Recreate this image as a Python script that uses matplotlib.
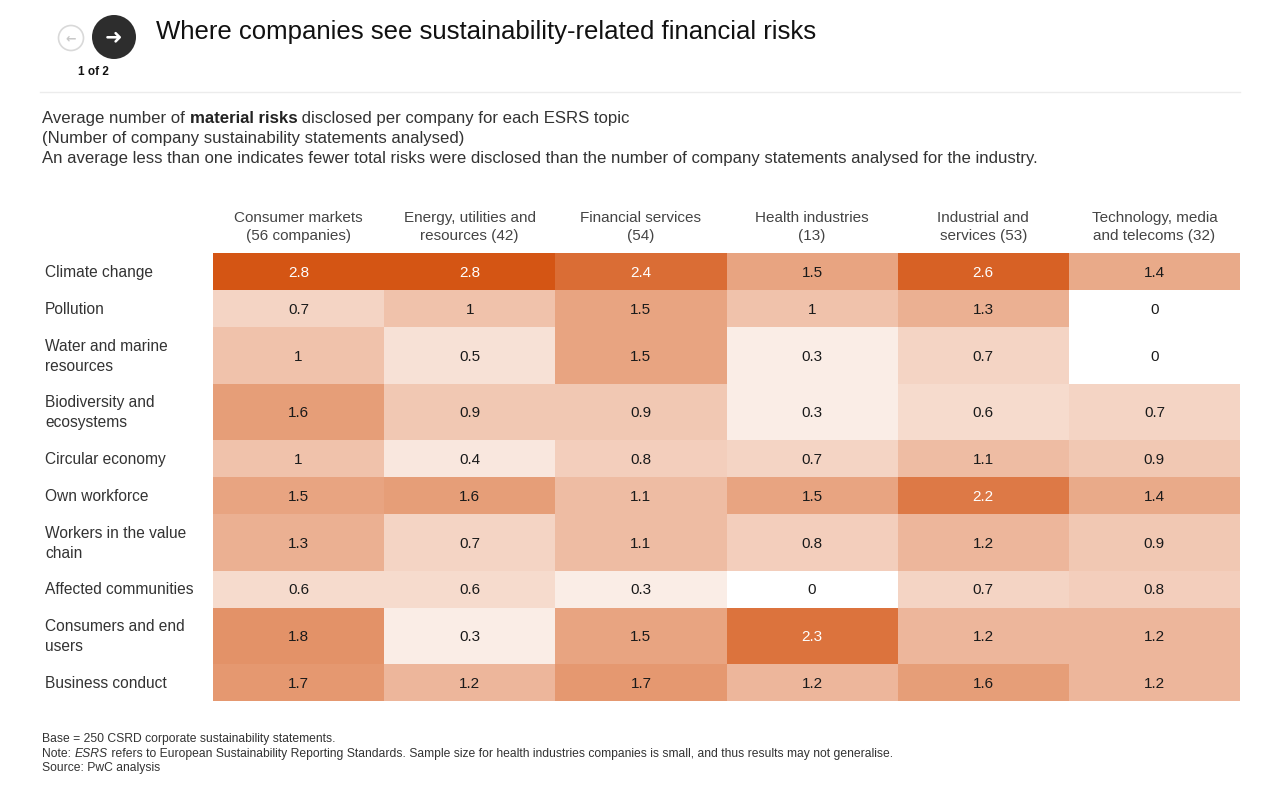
import matplotlib
matplotlib.use("Agg")
import matplotlib.pyplot as plt
import numpy as np
from matplotlib.colors import LinearSegmentedColormap
from matplotlib.patches import Circle

plt.rcParams['font.family'] = ['Liberation Sans', 'DejaVu Sans']

title = "Where companies see sustainability-related financial risks"
industries = ["Consumer markets\n(56 companies)", "Energy, utilities and\nresources (42)",
              "Financial services\n(54)", "Health industries\n(13)",
              "Industrial and\nservices (53)", "Technology, media\nand telecoms (32)"]
topics = ["Climate change", "Pollution", "Water and marine\nresources",
          "Biodiversity and\necosystems", "Circular economy", "Own workforce",
          "Workers in the value\nchain", "Affected communities",
          "Consumers and end\nusers", "Business conduct"]
values = [
    [2.8, 2.8, 2.4, 1.5, 2.6, 1.4],
    [0.7, 1, 1.5, 1, 1.3, 0],
    [1, 0.5, 1.5, 0.3, 0.7, 0],
    [1.6, 0.9, 0.9, 0.3, 0.6, 0.7],
    [1, 0.4, 0.8, 0.7, 1.1, 0.9],
    [1.5, 1.6, 1.1, 1.5, 2.2, 1.4],
    [1.3, 0.7, 1.1, 0.8, 1.2, 0.9],
    [0.6, 0.6, 0.3, 0, 0.7, 0.8],
    [1.8, 0.3, 1.5, 2.3, 1.2, 1.2],
    [1.7, 1.2, 1.7, 1.2, 1.6, 1.2],
]
footnotes_base = "Base = 250 CSRD corporate sustainability statements."
footnotes_source = "Source: PwC analysis"

W, H = 1280, 788
fig = plt.figure(figsize=(W / 100, H / 100), dpi=100)
fig.patch.set_facecolor("white")

ov = fig.add_axes([0, 0, 1, 1])
ov.set_xlim(0, W)
ov.set_ylim(H, 0)
ov.axis("off")

# header icons
ov.add_patch(Circle((71, 38), 12.5, facecolor="white", edgecolor="#d9d9d9", lw=1.2))
ov.text(71, 38.5, "←", ha="center", va="center", fontsize=9, color="#c8c8c8",
        family=["DejaVu Sans"], fontweight="bold")
ov.add_patch(Circle((114, 37), 22, facecolor="#2d2d2d", edgecolor="none"))
ov.text(114, 37, "➜", ha="center", va="center", fontsize=15, color="white",
        family=["DejaVu Sans"], fontweight="bold")
ov.text(93, 72, "1 of 2", ha="center", va="center", fontsize=8.5, color="#111111",
        fontweight="bold")
ov.text(156, 32, title, ha="left", va="center", fontsize=18.5, color="#111111")
ov.plot([40, 1240], [92, 92], color="#ececec", lw=1)

# subtitle
txtc = "#333333"
fs_sub = 12.08
t1 = ov.text(42, 118, "Average number of ", ha="left", va="center", fontsize=fs_sub, color=txtc)
t2 = ov.annotate("material risks", xy=(1, 0), xycoords=t1, va="bottom", ha="left",
                 fontsize=fs_sub, color="#222222", fontweight="bold")
ov.annotate(" disclosed per company for each ESRS topic", xy=(1, 0), xycoords=t2,
            va="bottom", ha="left", fontsize=fs_sub, color=txtc)
ov.text(42, 138, "(Number of company sustainability statements analysed)", ha="left",
        va="center", fontsize=fs_sub, color=txtc)
ov.text(42, 158, "An average less than one indicates fewer total risks were disclosed than the "
        "number of company statements analysed for the industry.", ha="left", va="center",
        fontsize=fs_sub, color=txtc)

# table
vals = np.array(values, dtype=float)
nrows, ncols = vals.shape
single, double = 37.0, 56.5
heights = np.array([double if "\n" in t else single for t in topics])
yedges = np.concatenate([[0], np.cumsum(heights)])
xedges = np.arange(ncols + 1)
top_px, bot_px = 253, 253 + yedges[-1]
left_px, right_px = 213, 1240
tab = fig.add_axes([left_px / W, 1 - bot_px / H, (right_px - left_px) / W, (bot_px - top_px) / H])
cmap = LinearSegmentedColormap.from_list("pwc", ["#ffffff", "#d45514"])
tab.pcolormesh(xedges, yedges, vals, cmap=cmap, vmin=0, vmax=2.8, shading="flat",
               edgecolors="none")
tab.set_xlim(0, ncols)
tab.set_ylim(yedges[-1], 0)
tab.axis("off")
ycent = (yedges[:-1] + yedges[1:]) / 2
for i in range(nrows):
    for j in range(ncols):
        v = vals[i, j]
        tab.text(j + 0.5, ycent[i] + 1.5, "%g" % v, ha="center", va="center", fontsize=11,
                 color="white" if v >= 2.0 else "#1a1a1a")

# row labels
for i, t in enumerate(topics):
    ov.text(45, top_px + ycent[i] + 1, t, ha="left", va="center", fontsize=11.2,
            color="#333333", linespacing=1.45)
# column labels
colw = (right_px - left_px) / ncols
for j, c in enumerate(industries):
    ov.text(left_px + colw * (j + 0.5), 227, c, ha="center", va="center", fontsize=11,
            color="#444444", linespacing=1.45)

# footnotes
fc = "#333333"
fs_ft = 8.7
ov.text(42, 739, footnotes_base, ha="left", va="center", fontsize=fs_ft, color=fc)
n1 = ov.text(42, 754, "Note: ", ha="left", va="center", fontsize=fs_ft, color=fc)
n2 = ov.annotate("ESRS", xy=(1, 0), xycoords=n1, va="bottom", ha="left", fontsize=fs_ft,
                 color=fc, fontstyle="italic")
ov.annotate(" refers to European Sustainability Reporting Standards. Sample size for health "
            "industries companies is small, and thus results may not generalise.",
            xy=(1, 0), xycoords=n2, va="bottom", ha="left", fontsize=fs_ft, color=fc)
ov.text(42, 768, footnotes_source, ha="left", va="center", fontsize=fs_ft, color=fc)

fig.savefig("out.png", dpi=100, facecolor="white")
